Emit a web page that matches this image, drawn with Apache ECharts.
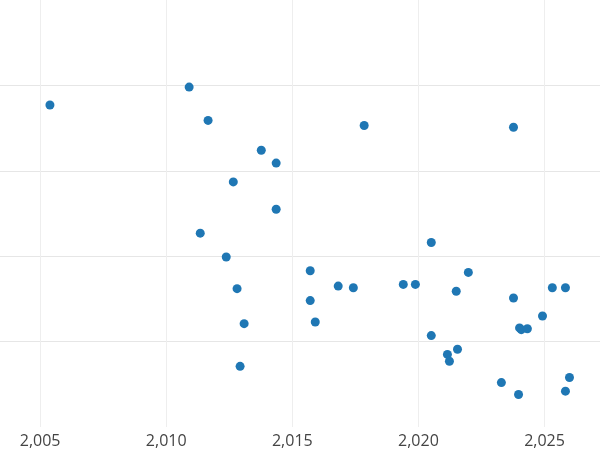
<!DOCTYPE html>
<html><head><meta charset="utf-8">
<script src="https://cdn.jsdelivr.net/npm/echarts@6/dist/echarts.min.js"></script>
<style>html,body{margin:0;padding:0}#c{width:600px;height:450px}</style>
</head><body><div id="c"></div>
<script>
const xYears = [2005.39,2010.91,2011.66,2013.77,2014.36,2012.66,2014.36,2011.35,2012.38,2012.81,2013.09,2012.93,2015.71,2015.71,2015.91,2016.82,2017.42,2017.85,2019.40,2019.88,2020.51,2020.51,2021.98,2021.50,2021.15,2021.23,2021.55,2023.29,2023.77,2023.77,2023.97,2024.01,2024.08,2024.32,2024.92,2025.31,2025.83,2025.83,2025.99];
const yValues = [3.77,3.98,3.59,3.24,3.09,2.87,2.55,2.27,1.99,1.62,1.21,0.71,1.83,1.48,1.23,1.65,1.63,3.53,1.67,1.67,2.16,1.07,1.81,1.59,0.85,0.77,0.91,0.52,3.51,1.51,0.38,1.16,1.14,1.15,1.30,1.63,1.63,0.42,0.58];
const xTicks = [2005,2010,2015,2020,2025];
const pts = xYears.map((x,i)=>[x,yValues[i]]);
const chart = echarts.init(document.getElementById('c'));
chart.setOption({
  animation:false,
  grid:{left:0,right:0,top:-3,bottom:23,containLabel:false},
  xAxis:{type:'value',min:2003.41,max:2027.2,
    axisLine:{show:false},axisTick:{show:false,customValues:xTicks},
    axisLabel:{customValues:xTicks,color:'#444',fontSize:16,fontFamily:'Open Sans',margin:6},
    splitLine:{show:true,lineStyle:{color:'#eeeeee'}}},
  yAxis:{type:'value',min:0,max:5,interval:1,
    axisLine:{show:false},axisTick:{show:false},axisLabel:{show:false},
    splitLine:{show:true,showMinLine:false,showMaxLine:false,lineStyle:{color:'#e6e6e6'}}},
  series:[{type:'scatter',data:pts,symbolSize:9,itemStyle:{color:'#1f77b4',opacity:1}}]
});
</script></body></html>
